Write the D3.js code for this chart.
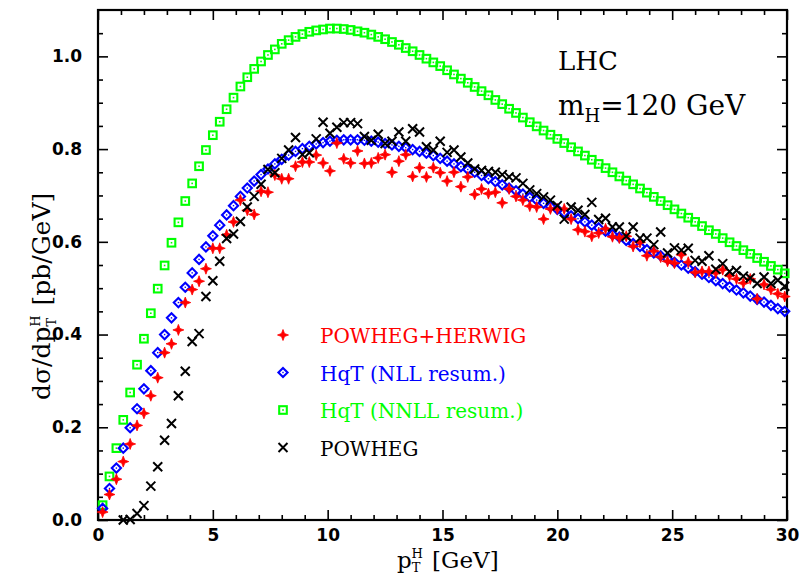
<!DOCTYPE html>
<html lang="en">
<head>
<meta charset="UTF-8">
<title>Higgs pT spectrum</title>
<script src="https://cdnjs.cloudflare.com/ajax/libs/d3/7.8.5/d3.min.js"></script>
<style>
body { margin: 0; background: #fff; }
.tick text { font-family: "DejaVu Sans", sans-serif; font-weight: bold; font-size: 17px; fill: #000; }
.tick line { stroke: #000; stroke-width: 1.6px; }
.lbl { font-family: "DejaVu Serif", serif; }
</style>
</head>
<body>
<script>

// pT grid (GeV): bins every 0.3 GeV starting at 0.2
var ptStart = 0.2, ptStep = 0.3;

// POWHEG+HERWIG (red crosses)
var powhegHerwig = [0.017,0.055,0.088,0.126,0.164,0.204,0.230,0.268,0.307,0.361,
    0.380,0.410,0.469,0.497,0.515,0.542,0.586,0.586,0.615,0.643,
    0.690,0.668,0.659,0.709,0.707,0.744,0.736,0.736,0.763,0.772,
    0.772,0.787,0.770,0.753,0.813,0.779,0.770,0.796,0.769,0.770,
    0.781,0.788,0.750,0.774,0.788,0.741,0.760,0.740,0.760,0.749,
    0.731,0.750,0.719,0.740,0.702,0.714,0.704,0.707,0.684,0.714,
    0.698,0.690,0.677,0.675,0.649,0.671,0.671,0.671,0.649,0.626,
    0.622,0.612,0.619,0.628,0.611,0.608,0.612,0.590,0.599,0.570,
    0.580,0.567,0.558,0.554,0.572,0.556,0.534,0.536,0.536,0.533,
    0.540,0.527,0.520,0.511,0.520,0.477,0.508,0.497,0.488,0.482];

// HqT NLL resummation (blue diamonds)
var hqtNLL = [0.025,0.068,0.112,0.155,0.199,0.240,0.283,0.322,0.361,0.400,
    0.436,0.469,0.502,0.533,0.562,0.589,0.613,0.636,0.658,0.678,
    0.698,0.716,0.731,0.745,0.757,0.768,0.778,0.787,0.795,0.801,
    0.806,0.811,0.814,0.817,0.819,0.820,0.820,0.820,0.819,0.817,
    0.815,0.812,0.809,0.806,0.803,0.799,0.795,0.791,0.786,0.780,
    0.774,0.768,0.762,0.756,0.750,0.743,0.736,0.730,0.723,0.716,
    0.710,0.703,0.696,0.690,0.683,0.676,0.670,0.663,0.656,0.650,
    0.643,0.636,0.630,0.623,0.616,0.610,0.603,0.596,0.590,0.583,
    0.576,0.570,0.563,0.556,0.550,0.543,0.536,0.530,0.523,0.516,
    0.510,0.503,0.496,0.490,0.483,0.476,0.470,0.463,0.456,0.450];

// HqT NNLL resummation (green squares)
var hqtNNLL = [0.032,0.094,0.155,0.216,0.275,0.335,0.391,0.446,0.499,0.549,
    0.598,0.642,0.688,0.726,0.763,0.798,0.830,0.859,0.886,0.911,
    0.935,0.955,0.973,0.989,1.003,1.015,1.027,1.035,1.042,1.048,
    1.053,1.056,1.058,1.060,1.060,1.059,1.057,1.054,1.051,1.047,
    1.042,1.037,1.031,1.025,1.018,1.011,1.003,0.995,0.987,0.979,
    0.970,0.961,0.952,0.943,0.934,0.925,0.916,0.906,0.897,0.887,
    0.878,0.868,0.858,0.849,0.840,0.831,0.822,0.813,0.804,0.795,
    0.786,0.777,0.768,0.759,0.750,0.741,0.732,0.724,0.715,0.706,
    0.697,0.688,0.679,0.670,0.661,0.652,0.643,0.634,0.625,0.617,
    0.608,0.599,0.591,0.582,0.574,0.565,0.557,0.548,0.540,0.532];

// POWHEG (black x), nothing in the first three bins
var powheg = [null,null,null,0.000,0.001,0.014,0.031,0.073,0.115,0.172,
    0.208,0.268,0.321,0.385,0.402,0.482,0.516,0.558,0.607,0.617,
    0.644,0.675,0.698,0.724,0.756,0.749,0.780,0.798,0.825,0.788,
    0.792,0.822,0.858,0.834,0.847,0.857,0.857,0.855,0.827,0.819,
    0.832,0.812,0.817,0.837,0.817,0.844,0.837,0.805,0.798,0.817,
    0.793,0.798,0.783,0.770,0.757,0.754,0.752,0.750,0.745,0.740,
    0.738,0.726,0.712,0.704,0.697,0.690,0.678,0.649,0.675,0.668,
    0.659,0.685,0.648,0.651,0.632,0.632,0.612,0.632,0.608,0.608,
    0.594,0.621,0.576,0.587,0.582,0.586,0.560,0.558,0.570,0.541,
    0.553,0.536,0.538,0.526,0.522,0.510,0.524,0.510,0.517,0.504];

var legendNames = ["POWHEG+HERWIG", "HqT (NLL resum.)", "HqT (NNLL resum.)", "POWHEG"];
var xMajor = [0, 5, 10, 15, 20, 25, 30];
var yMajor = [0, 0.2, 0.4, 0.6, 0.8, 1.0];

var W = 800, H = 576;
var margin = {top: 10, right: 13, bottom: 56, left: 98};

var svg = d3.select("body").append("svg")
    .attr("width", W)
    .attr("height", H);

var x = d3.scaleLinear().domain([0, 30]).range([margin.left, W - margin.right]);
var y = d3.scaleLinear().domain([0, 1.1]).range([H - margin.bottom, margin.top]);

var xMinor = d3.range(0, 31, 1).filter(function(d) { return d % 5 != 0; });
var yMinor = d3.range(0, 1.1, 0.05).filter(function(d) { return Math.round(d * 100) % 20 != 0; });

// axes, ticks pointing inside on all four sides
svg.append("g").attr("transform", "translate(0," + y(0) + ")")
    .call(d3.axisBottom(x).tickValues(xMajor).tickSize(-10).tickPadding(9).tickFormat(d3.format("d")));
svg.append("g").attr("transform", "translate(0," + y(0) + ")")
    .call(d3.axisBottom(x).tickValues(xMinor).tickSize(-5).tickFormat(""));
svg.append("g").attr("transform", "translate(0," + y(1.1) + ")")
    .call(d3.axisTop(x).tickValues(xMajor).tickSize(-10).tickFormat(""));
svg.append("g").attr("transform", "translate(0," + y(1.1) + ")")
    .call(d3.axisTop(x).tickValues(xMinor).tickSize(-5).tickFormat(""));

svg.append("g").attr("transform", "translate(" + x(0) + ",0)")
    .call(d3.axisLeft(y).tickValues(yMajor).tickSize(-10).tickPadding(16).tickFormat(d3.format(".1f")));
svg.append("g").attr("transform", "translate(" + x(0) + ",0)")
    .call(d3.axisLeft(y).tickValues(yMinor).tickSize(-5).tickFormat(""));
svg.append("g").attr("transform", "translate(" + x(30) + ",0)")
    .call(d3.axisRight(y).tickValues(yMajor).tickSize(-10).tickFormat(""));
svg.append("g").attr("transform", "translate(" + x(30) + ",0)")
    .call(d3.axisRight(y).tickValues(yMinor).tickSize(-5).tickFormat(""));

svg.selectAll(".domain").remove();

svg.append("rect")
    .attr("x", x(0)).attr("y", y(1.1))
    .attr("width", x(30) - x(0)).attr("height", y(0) - y(1.1))
    .attr("fill", "none").attr("stroke", "#000").attr("stroke-width", 2.2);

// marker shapes
function drawMarker(g, kind, color) {
    if (kind == "square") {
        g.append("rect").attr("x", -3.8).attr("y", -3.8).attr("width", 7.6).attr("height", 7.6)
            .attr("fill", "none").attr("stroke", color).attr("stroke-width", 2.1);
        g.append("rect").attr("x", -0.8).attr("y", -0.8).attr("width", 1.6).attr("height", 1.6)
            .attr("fill", color);
    } else if (kind == "diamond") {
        g.append("path").attr("d", "M0,-4.6L4.6,0L0,4.6L-4.6,0Z")
            .attr("fill", "none").attr("stroke", color).attr("stroke-width", 2.1);
        g.append("rect").attr("x", -0.7).attr("y", -0.7).attr("width", 1.4).attr("height", 1.4)
            .attr("fill", color);
    } else if (kind == "star") {
        g.append("path").attr("d", "M0,-5.5L1.5,-1.5L5.5,0L1.5,1.5L0,5.5L-1.5,1.5L-5.5,0L-1.5,-1.5Z")
            .attr("fill", color).attr("stroke", color).attr("stroke-width", 0.8);
    } else {
        g.append("path").attr("d", "M-4.5,-4.5L4.5,4.5M-4.5,4.5L4.5,-4.5")
            .attr("stroke", color).attr("stroke-width", 2).attr("fill", "none");
    }
}

var series = [
    {name: legendNames[2], values: hqtNNLL, kind: "square", color: "#00ff00", row: 2},
    {name: legendNames[1], values: hqtNLL, kind: "diamond", color: "#0000ff", row: 1},
    {name: legendNames[0], values: powhegHerwig, kind: "star", color: "#ff0000", row: 0},
    {name: legendNames[3], values: powheg, kind: "cross", color: "#000000", row: 3}
];

series.forEach(function(s) {
    var pts = [];
    s.values.forEach(function(v, i) {
        if (v !== null) pts.push({pt: ptStart + ptStep * i, v: v});
    });
    svg.append("g").selectAll("g")
        .data(pts)
        .enter()
        .append("g")
        .attr("transform", function(d) { return "translate(" + x(d.pt) + "," + y(d.v) + ")"; })
        .each(function() { drawMarker(d3.select(this), s.kind, s.color); });
});

// legend
var legend = svg.append("g");
series.forEach(function(s) {
    var ly = 335 + s.row * 37.5;
    drawMarker(legend.append("g").attr("transform", "translate(283," + ly + ")"), s.kind, s.color);
    legend.append("text").attr("class", "lbl")
        .attr("x", 320).attr("y", ly + 8)
        .style("font-size", "20px")
        .attr("fill", s.color)
        .text(s.name);
});

// annotations
svg.append("text").attr("class", "lbl")
    .attr("x", 558).attr("y", 70)
    .style("font-size", "26px")
    .text("LHC");

var mh = svg.append("text").attr("class", "lbl")
    .attr("x", 558).attr("y", 115)
    .style("font-size", "28px");
mh.append("tspan").text("m");
mh.append("tspan").attr("dy", 7).style("font-size", "18px").text("H");
mh.append("tspan").attr("dy", -7).text("=120 GeV");

// x title
var xt = svg.append("text").attr("class", "lbl")
    .attr("x", 397).attr("y", 568)
    .style("font-size", "23px");
xt.append("tspan").text("p");
xt.append("tspan").attr("dy", 4).style("font-size", "13px").text("T");
xt.append("tspan").attr("dx", -9).attr("dy", -14).style("font-size", "13px").text("H");
xt.append("tspan").attr("dx", 2).attr("dy", 10).text(" [GeV]");

// y title
var yt = svg.append("text").attr("class", "lbl")
    .attr("transform", "translate(50,400) rotate(-90)")
    .style("font-size", "25px");
yt.append("tspan").text("d\u03c3/dp");
yt.append("tspan").attr("dy", 6).style("font-size", "13px").text("T");
yt.append("tspan").attr("dx", -9).attr("dy", -16).style("font-size", "13px").text("H");
yt.append("tspan").attr("dx", 2).attr("dy", 10).text(" [pb/GeV]");

</script>
</body>
</html>
